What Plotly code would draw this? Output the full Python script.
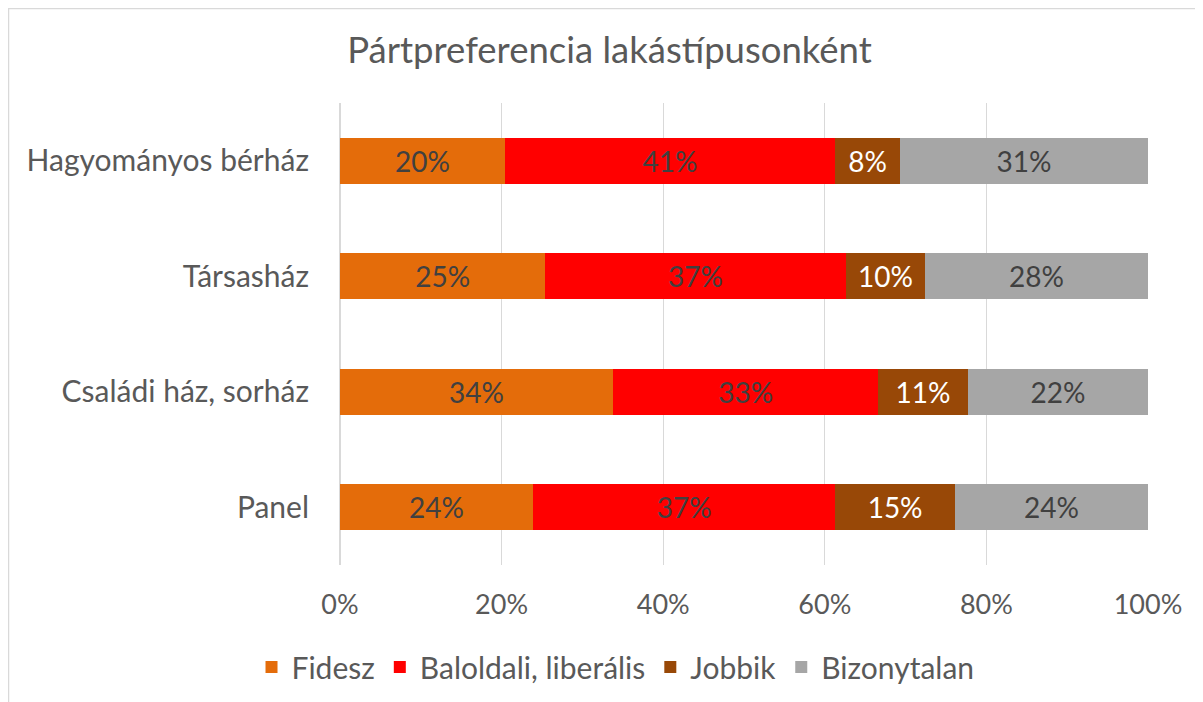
import plotly.graph_objects as go

categories = ["Hagyományos bérház", "Társasház", "Családi ház, sorház", "Panel"]
series_names = ["Fidesz", "Baloldali, liberális", "Jobbik", "Bizonytalan"]
fidesz = [20.4, 25.4, 33.8, 23.9]
baloldali = [40.9, 37.2, 32.8, 37.4]
jobbik = [8.0, 9.8, 11.1, 14.8]
bizonytalan = [30.7, 27.6, 22.3, 23.9]
x_tick_values = [0, 20, 40, 60, 80, 100]
x_tick_labels = ["0%", "20%", "40%", "60%", "80%", "100%"]

colors = ["#E46C0A", "#FF0000", "#984807", "#A6A6A6"]
label_colors = ["#404040", "#404040", "#FFFFFF", "#404040"]
FONT = "Lato, Open Sans, sans-serif"

fig = go.Figure()
for name, vals, col, lc in zip(series_names, [fidesz, baloldali, jobbik, bizonytalan], colors, label_colors):
    fig.add_trace(go.Bar(
        y=categories, x=vals, name=name, orientation="h",
        marker=dict(color=col, line=dict(width=0)),
        width=0.4,
        texttemplate="%{x:.0f}%", textposition="inside",
        insidetextanchor="middle", textangle=0,
        textfont=dict(color=lc, size=28, family=FONT),
        hoverinfo="x+name",
    ))

W, H = 1203, 702
l, r, t, b = 332, 63, 95, 145
pw, ph = W - l - r, H - t - b

def px_x(px):
    return (px - l) / pw

def px_y(py):
    return (H - b - py) / ph

fig.update_layout(
    barmode="stack",
    width=W, height=H,
    margin=dict(l=l, r=r, t=t, b=b),
    paper_bgcolor="white", plot_bgcolor="white",
    font=dict(family=FONT, color="#595959", size=28),
    title=dict(text="Pártpreferencia lakástípusonként", x=0.5, xanchor="center",
               y=1 - 42 / H, yanchor="middle", font=dict(size=36.5, color="#595959", family=FONT)),
    xaxis=dict(range=[0, 100], tickvals=x_tick_values, ticktext=x_tick_labels, showgrid=True,
               gridcolor="#D9D9D9", gridwidth=1, zeroline=True, zerolinecolor="#D9D9D9",
               showline=False, ticks="", tickfont=dict(size=27), ticklabelstandoff=21),
    yaxis=dict(categoryorder="array", categoryarray=categories[::-1], showgrid=False,
               ticks="", tickfont=dict(size=30), ticklabelstandoff=30),
    legend=dict(orientation="h", xref="container", x=0.505, xanchor="center",
                yref="container", y=1 - 659 / H, yanchor="middle",
                font=dict(size=30), traceorder="normal", itemwidth=30),
    shapes=[dict(type="rect", xref="paper", yref="paper",
                 x0=px_x(0.5), x1=px_x(1220), y0=px_y(0.5), y1=px_y(720),
                 line=dict(color="#D9D9D9", width=1.5), layer="below")],
    showlegend=True,
)

fig.write_html("out.html")
